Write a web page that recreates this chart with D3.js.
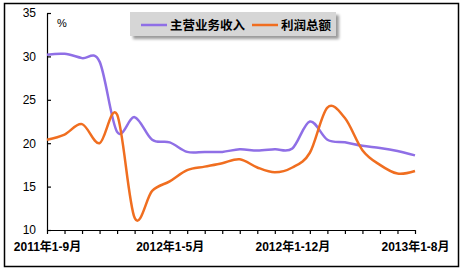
<!DOCTYPE html>
<html>
<head>
<meta charset="utf-8">
<script src="https://cdn.jsdelivr.net/npm/d3@7/dist/d3.min.js"></script>
<style>
  html, body { margin: 0; padding: 0; background: #fff; }
  svg text { font-family: Arial, 'Liberation Sans', 'Noto Sans CJK SC', sans-serif; }
</style>
</head>
<body>
<div id="chart"></div>
<script>
// Monthly cumulative periods, 2011 1-9 to 2013 1-8
const periods = [
  '2011年1-9月', '2011年1-10月', '2011年1-11月', '2011年1-12月',
  '2012年1-2月', '2012年1-3月', '2012年1-4月', '2012年1-5月', '2012年1-6月',
  '2012年1-7月', '2012年1-8月', '2012年1-9月', '2012年1-10月', '2012年1-11月',
  '2012年1-12月', '2013年1-2月', '2013年1-3月', '2013年1-4月', '2013年1-5月',
  '2013年1-6月', '2013年1-7月', '2013年1-8月'
];
const tickLabels = ['2011年1-9月', '2012年1-5月', '2012年1-12月', '2013年1-8月'];
const yTicks = [10, 15, 20, 25, 30, 35];

// 主营业务收入 growth, %
const revenue = [30.2, 30.3, 29.8, 29.4, 21.3, 23.0, 20.4, 20.1, 19.0, 19.0, 19.0,
  19.3, 19.15, 19.3, 19.4, 22.5, 20.4, 20.1, 19.7, 19.45, 19.1, 18.6];
// 利润总额 growth, %
const profit = [20.4, 21.0, 22.2, 20.0, 23.3, 11.4, 14.5, 15.6, 16.9, 17.3, 17.7,
  18.15, 17.2, 16.65, 17.2, 18.9, 24.1, 22.9, 19.2, 17.5, 16.5, 16.8];

const series = [
  { name: '主营业务收入', values: revenue, color: '#8f6fe6' },
  { name: '利润总额', values: profit, color: '#f06e20' }
];

const width = 462, height = 273;

const svg = d3.select('#chart')
  .append('svg')
  .attr('width', width)
  .attr('height', height);

// Outer frame
svg.append('rect')
  .attr('x', 4.5).attr('y', 3.5)
  .attr('width', 454).attr('height', 263)
  .attr('fill', '#fff')
  .attr('stroke', '#000')
  .attr('stroke-width', 1.5);

const x = d3.scalePoint().domain(periods).range([47, 415]);
const y = d3.scaleLinear().domain([10, 35]).range([230, 13]);

// Y axis, ticks pointing inward
const yAxis = svg.append('g')
  .attr('transform', 'translate(47,0)')
  .call(d3.axisLeft(y).tickValues(yTicks).tickSize(-4).tickSizeOuter(0).tickPadding(11));
yAxis.selectAll('text')
  .style('font-size', '12px')
  .attr('fill', '#000');

// X axis, label every 7th period
const xAxis = svg.append('g')
  .attr('transform', 'translate(0,230)')
  .call(d3.axisBottom(x)
    .tickSize(4).tickSizeOuter(0).tickPadding(8)
    .tickFormat(d => tickLabels.includes(d) ? d : ''));
xAxis.selectAll('text')
  .style('font-size', '12px')
  .style('font-weight', '700')
  .attr('fill', '#000');

svg.selectAll('.domain, .tick line').attr('stroke', '#000').attr('stroke-width', 1.2);

svg.append('text')
  .attr('x', 62).attr('y', 27)
  .attr('text-anchor', 'middle')
  .style('font-size', '11px')
  .text('%');

// Lines, Excel-style smoothing (uniform Catmull-Rom)
const line = d3.line()
  .x((d, i) => x(periods[i]))
  .y(d => y(d))
  .curve(d3.curveCatmullRom.alpha(0));

svg.selectAll('.series')
  .data(series)
  .join('path')
  .attr('class', 'series')
  .attr('fill', 'none')
  .attr('stroke', d => d.color)
  .attr('stroke-width', 2.5)
  .attr('d', d => line(d.values));

// Legend with drop shadow
const defs = svg.append('defs');
const f = defs.append('filter').attr('id', 'shadow')
  .attr('x', '-10%').attr('y', '-30%').attr('width', '130%').attr('height', '180%');
f.append('feGaussianBlur').attr('in', 'SourceAlpha').attr('stdDeviation', 1.5);
f.append('feOffset').attr('dx', 3).attr('dy', 3).attr('result', 'b');
f.append('feComponentTransfer').append('feFuncA').attr('type', 'linear').attr('slope', 0.4);
const m = f.append('feMerge');
m.append('feMergeNode');
m.append('feMergeNode').attr('in', 'SourceGraphic');

const legend = svg.append('g');
legend.append('rect')
  .attr('x', 130).attr('y', 12)
  .attr('width', 206).attr('height', 24)
  .attr('fill', '#d6d6d6')
  .attr('filter', 'url(#shadow)');

const legendX = [141, 252];
const items = legend.selectAll('.item')
  .data(series)
  .join('g')
  .attr('class', 'item')
  .attr('transform', (d, i) => `translate(${legendX[i]},25)`);
items.append('line')
  .attr('x1', 0).attr('x2', 26)
  .attr('stroke', d => d.color)
  .attr('stroke-width', 2.5);
items.append('text')
  .attr('x', 29).attr('dy', '0.38em')
  .style('font-size', '12.5px')
  .style('font-weight', '700')
  .text(d => d.name);
</script>
</body>
</html>
